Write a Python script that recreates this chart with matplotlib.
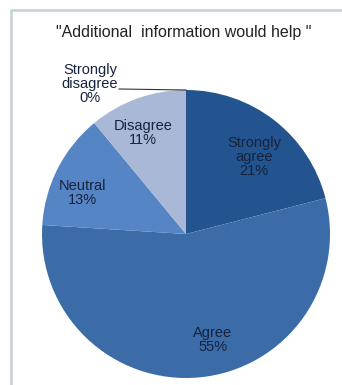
import matplotlib
matplotlib.use('Agg')
import matplotlib.pyplot as plt

plt.rcParams['font.family'] = ['Liberation Sans', 'DejaVu Sans']

# survey answers, clockwise from 12 o'clock
categories = ['Strongly agree', 'Agree', 'Neutral', 'Disagree', 'Strongly disagree']
shares = [21, 55, 13, 11, 0]
colors = ['#24548f', '#3b6ca8', '#5585c5', '#a8b8d6', '#c9d3e6']
label_text = ['Strongly\nagree\n21%', 'Agree\n55%', 'Neutral\n13%', 'Disagree\n11%', 'Strongly\ndisagree\n0%']

# label anchors in the pixel-like frame of the axes (y up)
label_pos = [(254, 228), (213, 45), (82, 192), (143, 252), (90, 301)]

fig = plt.figure(figsize=(3.42, 3.85), dpi=100)
ax = fig.add_axes([0, 0, 1, 1])

cx, cy, r = 186, 151, 144
wedges, _ = ax.pie(shares, colors=colors, startangle=90, counterclock=False,
                   center=(cx, cy), radius=r, frame=True,
                   wedgeprops=dict(linewidth=0))
ax.set_xlim(0, 342)
ax.set_ylim(0, 385)
ax.set_aspect('equal')
ax.axis('off')

for i, txt in enumerate(label_text):
    x, y = label_pos[i]
    ax.text(x, y, txt, ha='center', va='center', fontsize=10.5,
            color='#15233d', linespacing=1.0)

# leader line for the empty slice
ax.plot([119, cx], [296, cy + r], color='#333333', lw=0.8)

ax.text(184, 353, '"Additional  information would help "', ha='center', va='center',
        fontsize=11.5, color='#222222')

# frame around the chart area (left and top edges)
ax.plot([11, 11], [0, 375], color='#c3d1d8', lw=1.8, solid_capstyle='butt')
ax.plot([10, 342], [375, 375], color='#c3d1d8', lw=1.8, solid_capstyle='butt')

fig.savefig('out.png', dpi=100)
